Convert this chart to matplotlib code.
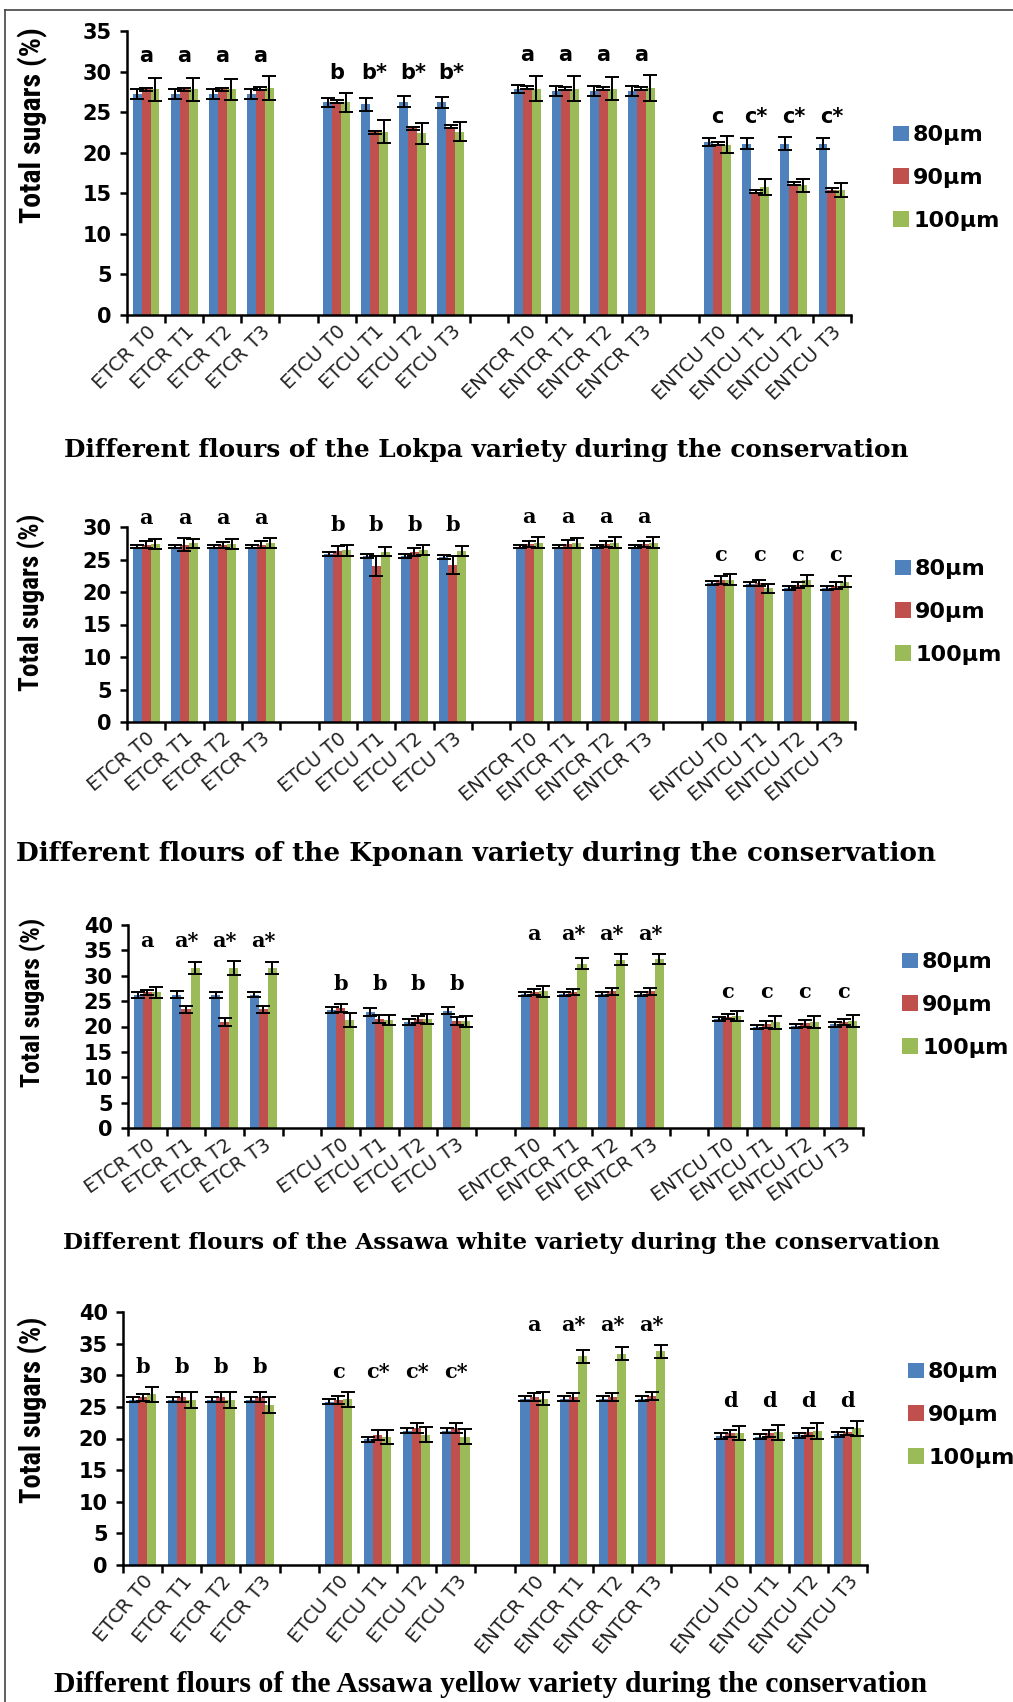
import numpy as np
import matplotlib
matplotlib.use('Agg')
import matplotlib.pyplot as plt
from matplotlib.lines import Line2D

W, H = 1013, 1702

groups = ['ETCR', 'ETCU', 'ENTCR', 'ENTCU']
times = ['T0', 'T1', 'T2', 'T3']
sizes = ['80µm', '90µm', '100µm']
colors = ['#4F81BD', '#C0504D', '#9BBB59']

# Lokpa
lokpa_80 = [27.2, 27.2, 27.2, 27.2, 26.2, 26.0, 26.3, 26.2, 27.8, 27.6, 27.6, 27.6, 21.3, 21.1, 21.1, 21.1]
lokpa_90 = [27.8, 27.8, 27.8, 27.9, 26.3, 22.5, 23.0, 23.2, 28.0, 27.9, 27.9, 27.9, 21.1, 15.2, 16.2, 15.4]
lokpa_100 = [27.8, 27.8, 27.8, 28.0, 26.2, 22.6, 22.4, 22.6, 27.9, 27.9, 27.9, 28.0, 21.0, 15.8, 16.0, 15.4]
lokpa_err_80 = [0.6, 0.6, 0.6, 0.6, 0.6, 0.8, 0.7, 0.7, 0.5, 0.6, 0.6, 0.6, 0.5, 0.7, 0.8, 0.7]
lokpa_err_90 = [0.2, 0.2, 0.2, 0.2, 0.2, 0.2, 0.2, 0.2, 0.2, 0.2, 0.2, 0.2, 0.2, 0.2, 0.2, 0.2]
lokpa_err_100 = [1.4, 1.4, 1.3, 1.5, 1.2, 1.4, 1.3, 1.2, 1.5, 1.5, 1.4, 1.6, 1.0, 1.0, 0.8, 0.9]
lokpa_letters = ['a', 'a', 'a', 'a', 'b', 'b*', 'b*', 'b*', 'a', 'a', 'a', 'a', 'c', 'c*', 'c*', 'c*']

# Kponan
kponan_80 = [27.0, 27.0, 27.0, 27.0, 25.8, 25.6, 25.6, 25.4, 27.0, 27.0, 27.0, 27.0, 21.4, 21.2, 20.6, 20.6]
kponan_90 = [27.3, 27.3, 27.2, 27.3, 26.3, 24.0, 26.1, 24.2, 27.4, 27.4, 27.4, 27.4, 21.9, 21.4, 21.1, 21.0]
kponan_100 = [27.4, 27.5, 27.4, 27.5, 26.4, 26.2, 26.5, 26.3, 27.6, 27.5, 27.6, 27.6, 21.9, 20.6, 21.8, 21.6]
kponan_err_80 = [0.3, 0.3, 0.3, 0.3, 0.3, 0.3, 0.3, 0.3, 0.3, 0.3, 0.3, 0.3, 0.3, 0.3, 0.3, 0.3]
kponan_err_90 = [0.5, 1.0, 0.5, 0.5, 0.8, 1.5, 0.6, 1.4, 0.5, 0.6, 0.5, 0.5, 0.6, 0.5, 0.5, 0.5]
kponan_err_100 = [0.8, 0.7, 0.8, 0.8, 0.8, 0.7, 0.8, 0.8, 0.9, 0.8, 0.9, 0.9, 0.8, 0.7, 0.8, 0.8]
kponan_letters = ['a'] * 4 + ['b'] * 4 + ['a'] * 4 + ['c'] * 4

# Assawa white
white_80 = [26.2, 26.3, 26.2, 26.3, 23.2, 22.9, 20.8, 23.1, 26.4, 26.4, 26.4, 26.4, 21.5, 19.9, 20.1, 20.4]
white_90 = [26.7, 23.4, 20.9, 23.4, 23.6, 21.5, 21.4, 21.0, 26.8, 26.8, 26.9, 26.9, 21.9, 20.4, 20.6, 20.9]
white_100 = [26.7, 31.5, 31.6, 31.6, 21.3, 21.3, 21.4, 21.0, 26.9, 32.4, 33.2, 33.3, 22.0, 20.8, 20.9, 21.1]
white_err_80 = [0.5, 0.7, 0.5, 0.5, 0.6, 0.8, 0.6, 0.7, 0.4, 0.4, 0.4, 0.4, 0.4, 0.4, 0.4, 0.4]
white_err_90 = [0.5, 0.7, 0.8, 0.7, 0.8, 0.8, 0.7, 0.8, 0.5, 0.5, 0.6, 0.6, 0.5, 0.6, 0.6, 0.6]
white_err_100 = [1.0, 1.2, 1.4, 1.2, 1.3, 1.0, 1.0, 1.0, 1.0, 1.0, 1.1, 1.0, 1.0, 1.2, 1.2, 1.2]
white_letters = ['a', 'a*', 'a*', 'a*', 'b', 'b', 'b', 'b', 'a', 'a*', 'a*', 'a*', 'c', 'c', 'c', 'c']

# Assawa yellow
yellow_80 = [26.1, 26.1, 26.1, 26.1, 25.8, 19.9, 21.2, 21.2, 26.3, 26.3, 26.3, 26.3, 20.4, 20.3, 20.5, 20.7]
yellow_90 = [26.5, 26.5, 26.5, 26.5, 26.1, 20.5, 21.7, 21.6, 26.6, 26.6, 26.6, 26.7, 20.8, 20.8, 21.0, 21.1]
yellow_100 = [27.0, 26.1, 26.1, 25.3, 26.2, 20.2, 20.6, 20.3, 26.3, 33.0, 33.4, 33.8, 20.9, 21.0, 21.2, 21.6]
yellow_err_80 = [0.4, 0.4, 0.4, 0.4, 0.4, 0.4, 0.4, 0.4, 0.4, 0.4, 0.4, 0.4, 0.4, 0.4, 0.4, 0.4]
yellow_err_90 = [0.6, 0.8, 0.8, 0.8, 0.6, 0.8, 0.8, 0.8, 0.6, 0.6, 0.6, 0.6, 0.6, 0.6, 0.6, 0.6]
yellow_err_100 = [1.2, 1.2, 1.2, 1.2, 1.2, 1.1, 1.2, 1.2, 1.0, 1.0, 1.0, 1.0, 1.1, 1.2, 1.2, 1.2]
yellow_letters = ['b'] * 4 + ['c', 'c*', 'c*', 'c*', 'a', 'a*', 'a*', 'a*'] + ['d'] * 4

varieties = ['Lokpa', 'Kponan', 'Assawa white', 'Assawa yellow']

fig = plt.figure(figsize=(W / 100, H / 100), dpi=100)
renderer = fig.canvas.get_renderer()

narrow_sans = ['Liberation Sans Narrow', 'Roboto Condensed', 'DejaVu Sans Condensed',
               'Liberation Sans', 'DejaVu Sans']


def fit(txt, target, horizontal=True):
    # scale the font so the text spans the wanted number of pixels
    bb = txt.get_window_extent(renderer)
    size = bb.width if horizontal else bb.height
    txt.set_fontsize(txt.get_fontsize() * target / size)


def draw_panel(box, ymax, series, errs, letters, title, letter_font, title_font,
               title_pos, title_w, ylab_pos, ylab_h, legend_pos, rot):
    x0, x1, ytop, ybase = box
    ax = fig.add_axes([x0 / W, 1 - ybase / H, (x1 - x0) / W, (ybase - ytop) / H])
    centers = np.array([g * 5 + j + 0.5 for g in range(4) for j in range(4)])
    w = 0.235
    for k in range(3):
        ax.bar(centers + (k - 1) * w, series[k], w, color=colors[k], label=sizes[k],
               yerr=errs[k], error_kw=dict(ecolor='black', elinewidth=1.4,
                                            capsize=5, capthick=1.4))
    ax.set_xlim(0, 19)
    ax.set_ylim(0, ymax)
    ax.set_yticks(np.arange(0, ymax + 1, 5))
    for lab in ax.get_yticklabels():
        lab.set_fontweight('bold')
    ax.tick_params(axis='y', labelsize=15, length=5, width=1.8, pad=6)
    ax.set_xticks(np.arange(0, 20))
    ax.set_xticklabels([])
    ax.tick_params(axis='x', which='major', length=6, width=1.8)
    ax.set_xticks(centers, minor=True)
    names = [f'{g} {t}' for g in groups for t in times]
    ax.set_xticklabels(names, minor=True, rotation=rot, ha='right',
                       rotation_mode='anchor', fontsize=14, color='#222222')
    ax.tick_params(axis='x', which='minor', length=0, pad=5)
    for s in ['top', 'right']:
        ax.spines[s].set_visible(False)
    for s in ['left', 'bottom']:
        ax.spines[s].set_linewidth(1.8)

    # significance letters, one height per treatment group
    tops = np.max([np.array(series[k]) + np.array(errs[k]) for k in range(3)], axis=0)
    for g in range(4):
        gtop = tops[g * 4:(g + 1) * 4].max()
        for j in range(4):
            i = g * 4 + j
            ax.annotate(letters[i], (centers[i], gtop), xytext=(0, 7),
                        textcoords='offset points', ha='center', va='bottom',
                        fontsize=15, fontweight='bold', family=letter_font)

    ax.legend(loc='center left', bbox_to_anchor=(legend_pos[0] / W, 1 - legend_pos[1] / H),
              bbox_transform=fig.transFigure, frameon=False, handlelength=0.7,
              handleheight=0.7, handletextpad=0.2, labelspacing=1.02, borderpad=0,
              borderaxespad=0, prop=dict(weight='bold', size=16))

    t = fig.text(title_pos[0] / W, 1 - title_pos[1] / H, title, ha='center', va='center',
                 fontsize=18, fontweight='bold', family=title_font)
    fit(t, title_w)
    yl = fig.text(ylab_pos[0] / W, 1 - ylab_pos[1] / H, 'Total sugars (%)', rotation=90,
                  ha='center', va='center', fontsize=18, fontweight='bold',
                  fontstretch='condensed', family=narrow_sans)
    fit(yl, ylab_h, horizontal=False)
    return ax


serif_wide = ['DejaVu Serif']
serif_narrow = ['Liberation Serif', 'DejaVu Serif']

draw_panel((127, 851, 31, 315), 35, [lokpa_80, lokpa_90, lokpa_100],
           [lokpa_err_80, lokpa_err_90, lokpa_err_100], lokpa_letters,
           f'Different flours of the {varieties[0]} variety during the conservation',
           'DejaVu Sans', serif_wide, (486, 450), 843, (33, 125), 196, (893, 178), 45)

draw_panel((127, 855, 527, 722), 30, [kponan_80, kponan_90, kponan_100],
           [kponan_err_80, kponan_err_90, kponan_err_100], kponan_letters,
           f'Different flours of the {varieties[1]} variety during the conservation',
           'DejaVu Serif', serif_wide, (476, 854), 920, (32, 602), 177, (895, 612), 40)

draw_panel((128, 863, 925, 1128), 40, [white_80, white_90, white_100],
           [white_err_80, white_err_90, white_err_100], white_letters,
           f'Different flours of the {varieties[2]} variety during the conservation',
           'DejaVu Serif', serif_wide, (501, 1243), 878, (33, 1002), 170, (902, 1005), 35)

draw_panel((123, 867, 1312, 1565), 40, [yellow_80, yellow_90, yellow_100],
           [yellow_err_80, yellow_err_90, yellow_err_100], yellow_letters,
           f'Different flours of the {varieties[3]} variety during the conservation',
           'DejaVu Serif', serif_narrow, (490, 1684), 870, (33, 1410), 186, (908, 1415), 50)

# thin frame around the figure block
fig.add_artist(Line2D([5 / W, 5 / W], [0, 1 - 10 / H], color='#444444', lw=1.2))
fig.add_artist(Line2D([5 / W, 1], [1 - 10 / H, 1 - 10 / H], color='#444444', lw=1.2))

fig.savefig('out.png', dpi=100)
